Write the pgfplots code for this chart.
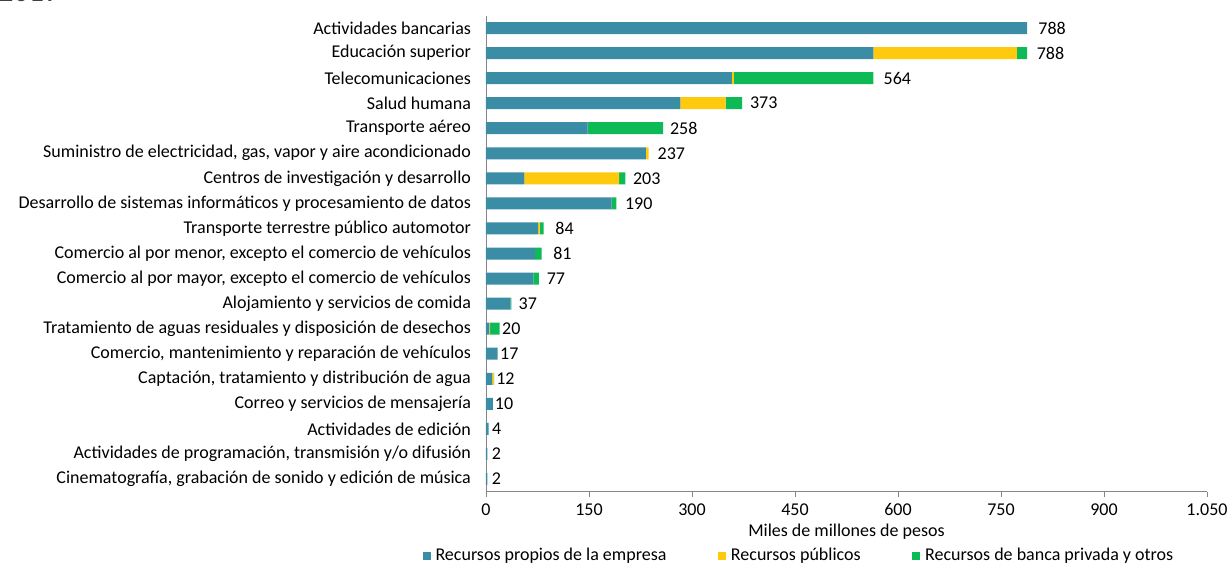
\documentclass[border=0pt]{standalone}
\usepackage{pgfplots}
\pgfplotsset{compat=1.18}
\usepackage{pgfplotstable}
\usepackage{fontspec}
\setmainfont{Carlito}
\definecolor{cblue}{HTML}{3A8DA5}
\definecolor{cyellow}{HTML}{FFC90E}
\definecolor{cgreen}{HTML}{0DBA56}
\definecolor{axgray}{HTML}{868686}
\pgfplotstableread{
y blue yellow green gap lab
0 2 0 0 12 2
1 2 0 0 12 2
2 4 0 0 9 4
3 10 0 0 5 10
4 9 2 1 5 12
5 17 0 0 6 17
6 5 1 14 6 20
7 36 0 1 20 37
8 69 0 8 22 77
9 71 0 10 33 81
10 76 2 6 33 84
11 183 0 7 24 190
12 56 138 9 21 203
13 233 4 0 25 237
14 148 0 110 19 258
15 283 66 24 22 373
16 358 3 203 29 564
17 564 209 15 27 788
18 788 0 0 32 788
}\datatable
\begin{document}
\begin{tikzpicture}
\useasboundingbox (0,0) rectangle (613.5pt,281.5pt);
\node[anchor=base west, inner sep=0pt, font=\fontsize{15}{18}\selectfont, text=black!75] at (-1pt,280.5pt) {2019};
\begin{axis}[
  at={(243pt,35.75pt)}, anchor=south west,
  scale only axis, width=360.5pt, height=238pt,
  xbar stacked, bar width=6pt,
  xmin=0, xmax=1050, ymin=-0.5, ymax=18.5,
  enlarge y limits=false,
  axis x line=bottom, axis y line=left,
  axis line style={axgray, -},
  xtick={0,150,...,1050},
  /pgf/number format/1000 sep={.},
  /pgf/number format/assume math mode=true,
  tick align=outside,
  major tick length=2.5pt,
  minor tick length=2.5pt,
  xtick style={axgray},
  ytick={0,...,18},
  ytick style={draw=none},
  minor ytick={-0.5,0.5,...,18.5},
  minor y tick style={axgray},
  yticklabels={{Cinematografía, grabación de sonido y edición de música},
    {Actividades de programación, transmisión y/o difusión},
    {Actividades de edición},
    {Correo y servicios de mensajería},
    {Captación, tratamiento y distribución de agua},
    {Comercio, mantenimiento y reparación de vehículos},
    {Tratamiento de aguas residuales y disposición de desechos},
    {Alojamiento y servicios de comida},
    {Comercio al por mayor, excepto el comercio de vehículos},
    {Comercio al por menor, excepto el comercio de vehículos},
    {Transporte terrestre público automotor},
    {Desarrollo de sistemas informáticos y procesamiento de datos},
    {Centros de investigación y desarrollo},
    {Suministro de electricidad, gas, vapor y aire acondicionado},
    {Transporte aéreo},
    {Salud humana},
    {Telecomunicaciones},
    {Educación superior},
    {Actividades bancarias}},
  yticklabel style={font=\fontsize{9}{10}\selectfont, anchor=east, xshift=-1.5pt},
  xticklabel style={font=\fontsize{9}{10}\selectfont},
  xlabel={Miles de millones de pesos},
  xlabel style={font=\fontsize{9}{10}\selectfont, yshift=3pt},
  legend style={at={(-0.09,-0.129)}, anchor=west, xshift=-2.5pt, yshift=-1.5pt, draw=none, fill=none,
    font=\fontsize{9}{10}\selectfont, legend columns=3,
    /tikz/every even column/.append style={column sep=24.75pt},
    nodes={inner sep=1pt}},
  legend image code/.code={\fill[#1] (0pt,-2pt) rectangle (4pt,2pt); \path (0pt,0pt) -- (5.5pt,0pt);},
]
\addplot[fill=cblue, draw=none] table[x=blue, y=y] {\datatable};
\addplot[fill=cyellow, draw=none] table[x=yellow, y=y] {\datatable};
\addplot[fill=cgreen, draw=none] table[x=green, y=y] {\datatable};
\addplot[fill=none, draw=none, nodes near coords, point meta=explicit symbolic,
  every node near coord/.append style={anchor=west, inner sep=0pt, text=black, font=\fontsize{9}{10}\selectfont}]
  table[x=gap, y=y, meta=lab] {\datatable};
\legend{Recursos propios de la empresa, Recursos públicos, Recursos de banca privada y otros}
\end{axis}
\end{tikzpicture}
\end{document}
